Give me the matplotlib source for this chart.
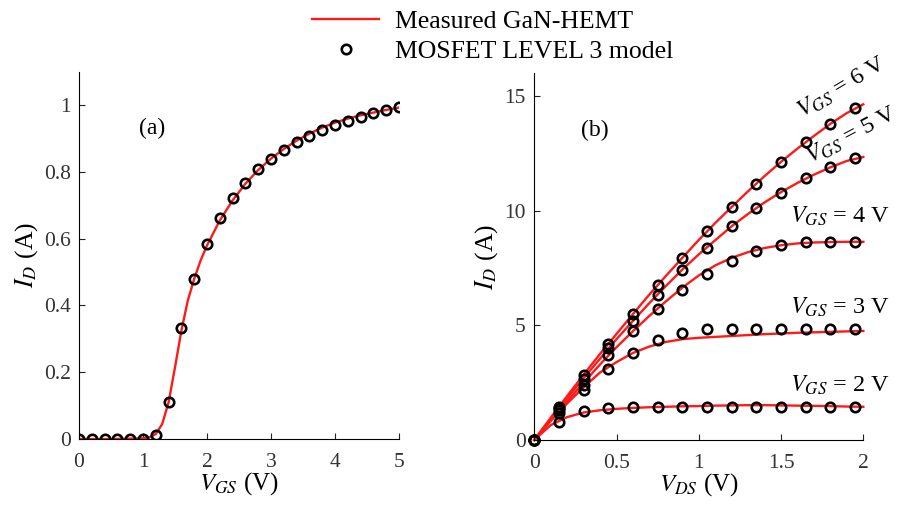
import matplotlib
matplotlib.use('Agg')
import matplotlib.pyplot as plt

plt.rcParams['font.family'] = ['Liberation Serif', 'DejaVu Serif']
plt.rcParams['mathtext.fontset'] = 'stix'

# (a) transfer curve, model points
vgs_pts = [0, 0.2, 0.4, 0.6, 0.8, 1.0, 1.2, 1.4, 1.6, 1.8, 2.0, 2.2, 2.4, 2.6,
           2.8, 3.0, 3.2, 3.4, 3.6, 3.8, 4.0, 4.2, 4.4, 4.6, 4.8, 5.0]
id_pts = [0, 0, 0, 0, 0, 0.001, 0.012, 0.11, 0.333, 0.48, 0.585, 0.661, 0.722, 0.768,
          0.808, 0.838, 0.866, 0.889, 0.908, 0.925, 0.940, 0.953, 0.966, 0.977, 0.987, 0.996]
# (a) measured curve
vgs_meas = [0, 0.5, 1.0, 1.1, 1.2, 1.3, 1.4, 1.5, 1.6, 1.7, 1.8, 1.9, 2.0, 2.2, 2.4,
            2.6, 2.8, 3.0, 3.2, 3.4, 3.6, 3.8, 4.0, 4.2, 4.4, 4.6, 4.8, 5.0]
id_meas = [0, 0, 0.002, 0.005, 0.015, 0.045, 0.11, 0.215, 0.325, 0.415, 0.48, 0.535, 0.58,
           0.655, 0.715, 0.765, 0.806, 0.84, 0.869, 0.894, 0.915, 0.933, 0.948, 0.96,
           0.97, 0.978, 0.986, 0.993]

# (b) output curves, model points
vds_pts = [0, 0.15, 0.3, 0.45, 0.6, 0.75, 0.9, 1.05, 1.2, 1.35, 1.5, 1.65, 1.8, 1.95]
id_vgs2 = [0, 0.8, 1.28, 1.41, 1.42, 1.43, 1.43, 1.43, 1.43, 1.43, 1.43, 1.43, 1.43, 1.43]
id_vgs3 = [0, 1.2, 2.2, 3.08, 3.81, 4.36, 4.69, 4.83, 4.83, 4.83, 4.83, 4.83, 4.83, 4.83]
id_vgs4 = [0, 1.3, 2.4, 3.7, 4.77, 5.7, 6.54, 7.25, 7.82, 8.26, 8.53, 8.66, 8.66, 8.66]
id_vgs5 = [0, 1.4, 2.65, 4.0, 5.2, 6.35, 7.44, 8.4, 9.33, 10.12, 10.8, 11.42, 11.92, 12.3]
id_vgs6 = [0, 1.45, 2.85, 4.2, 5.52, 6.76, 7.95, 9.11, 10.17, 11.19, 12.14, 13.0, 13.8, 14.49]

# (b) measured curves
vds_meas = [0, 0.1, 0.2, 0.3, 0.4, 0.5, 0.6, 0.7, 0.8, 0.9, 1.0, 1.1, 1.2, 1.3, 1.4,
            1.5, 1.6, 1.7, 1.8, 1.9, 2.0]
meas_vgs2 = [0, 0.65, 1.0, 1.2, 1.3, 1.36, 1.4, 1.43, 1.45, 1.47, 1.48, 1.5, 1.51, 1.52,
             1.52, 1.51, 1.5, 1.49, 1.48, 1.46, 1.45]
meas_vgs3 = [0, 0.83, 1.6, 2.3, 2.95, 3.4, 3.8, 4.08, 4.28, 4.4, 4.46, 4.5, 4.54, 4.58,
             4.62, 4.65, 4.68, 4.7, 4.72, 4.74, 4.76]
meas_vgs4 = [0, 0.88, 1.7, 2.5, 3.3, 4.05, 4.75, 5.42, 6.05, 6.65, 7.18, 7.62, 7.95, 8.2,
             8.38, 8.5, 8.58, 8.62, 8.64, 8.65, 8.65]
meas_vgs5 = [0, 0.93, 1.83, 2.7, 3.55, 4.4, 5.2, 5.98, 6.72, 7.44, 8.1, 8.72, 9.33, 9.87,
             10.37, 10.82, 11.22, 11.58, 11.9, 12.18, 12.35]
meas_vgs6 = [0, 0.97, 1.92, 2.85, 3.76, 4.63, 5.5, 6.35, 7.16, 7.95, 8.73, 9.47, 10.17,
             10.86, 11.52, 12.14, 12.72, 13.27, 13.8, 14.27, 14.65]

RED = '#ff1a1a'
mk = dict(ls='none', marker='o', ms=6.8, mfc='none', mec='black', mew=1.9)
tick_col = '#333333'

fig = plt.figure(figsize=(9.04, 5.05), dpi=100)
ax1 = fig.add_axes([0.0874, 0.1307, 0.354, 0.727])
ax2 = fig.add_axes([0.591, 0.1287, 0.364, 0.726])

for ax in (ax1, ax2):
    ax.spines['top'].set_visible(False)
    ax.spines['right'].set_visible(False)
    ax.tick_params(direction='in', length=4, labelsize=15.5, colors='#222222',
                   labelcolor=tick_col)
    ax.tick_params(axis='x', pad=10)
    ax.tick_params(axis='y', pad=6)
    ax.patch.set_alpha(0)

# panel (a)
l1, = ax1.plot(vgs_meas, id_meas, color=RED, lw=1.7, label='Measured GaN-HEMT')
p1, = ax1.plot(vgs_pts, id_pts, label='MOSFET LEVEL 3 model', **mk)
ax1.set_xlim(0, 5)
ax1.set_ylim(0, 1.1)
ax1.set_xticks([0, 1, 2, 3, 4, 5])
ax1.set_yticks([0, 0.2, 0.4, 0.6, 0.8, 1.0])
ax1.set_yticklabels(['0', '0.2', '0.4', '0.6', '0.8', '1'])
ax1.set_xlabel(r'$V_{GS}$ (V)', fontsize=18, labelpad=-1)
ax1.set_ylabel(r'$I_D$ (A)', fontsize=18.5, labelpad=3)
ax1.text(1.14, 0.93, '(a)', fontsize=17, ha='center', va='center')

# panel (b)
for ym in (meas_vgs2, meas_vgs3, meas_vgs4, meas_vgs5, meas_vgs6):
    ax2.plot(vds_meas, ym, color=RED, lw=1.7, clip_on=False)
for yp in (id_vgs2, id_vgs3, id_vgs4, id_vgs5, id_vgs6):
    ax2.plot(vds_pts, yp, clip_on=False, **mk)
ax2.set_xlim(0, 2)
ax2.set_ylim(0, 16)
ax2.set_xticks([0, 0.5, 1, 1.5, 2])
ax2.set_xticklabels(['0', '0.5', '1', '1.5', '2'])
ax2.set_yticks([0, 5, 10, 15])
ax2.set_xlabel(r'$V_{DS}$ (V)', fontsize=18, labelpad=-1)
ax2.set_ylabel(r'$I_D$ (A)', fontsize=18.5, labelpad=3)
ax2.text(0.37, 13.5, '(b)', fontsize=17, ha='center', va='center')

ann = dict(fontsize=17.5, clip_on=False)
ax2.text(1.555, 9.75, r'$V_{GS}$ = 4 V', ha='left', va='center', **ann)
ax2.text(1.555, 5.8, r'$V_{GS}$ = 3 V', ha='left', va='center', **ann)
ax2.text(1.555, 2.4, r'$V_{GS}$ = 2 V', ha='left', va='center', **ann)
ax2.text(1.87, 15.4, r'$V_{GS}$ = 6 V', ha='center', va='center', rotation=31, **ann)
ax2.text(1.93, 13.3, r'$V_{GS}$ = 5 V', ha='center', va='center', rotation=28, **ann)

fig.legend(handles=[l1, p1], loc='upper center', bbox_to_anchor=(0.545, 1.025),
           frameon=False, fontsize=18.5, handlelength=2.6, handletextpad=0.6,
           labelspacing=0.25)

fig.savefig('out.png', dpi=100)
